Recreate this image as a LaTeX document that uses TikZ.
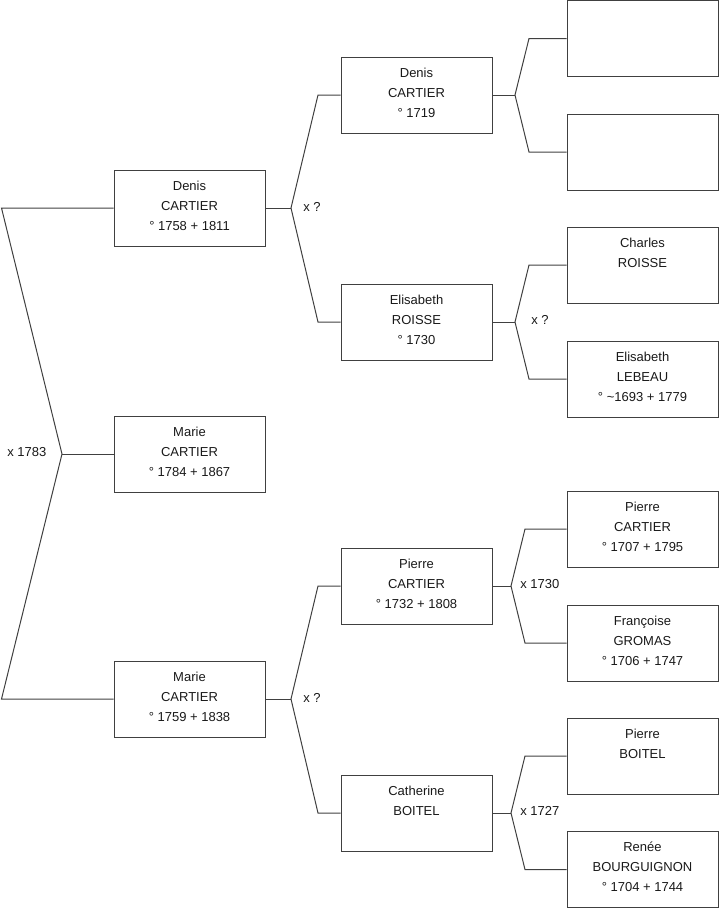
\documentclass[tikz,border=0pt]{standalone}
\usepackage{fontspec}
\setmainfont{Liberation Sans}
\newcommand\pbtext[3]{\strut #1\\\strut #2\\\strut #3\rule[-7.5pt]{0pt}{0pt}}
\begin{document}
\begin{tikzpicture}[x=0.75pt,y=-0.75pt,
  pbox/.style={draw=black!75, line width=0.75pt, rectangle, inner sep=0pt,
    minimum width=113.25pt, minimum height=57pt, align=center,
    font=\fontsize{9.75pt}{15pt}\selectfont, text=black!90},
  conn/.style={draw=black!75, line width=0.75pt},
  mlabel/.style={anchor=west, inner sep=0pt, font=\fontsize{9.75pt}{11pt}\selectfont, text=black!90}]
\useasboundingbox (0,0) rectangle (719,908);
% column 1
\node[pbox] (a1) at (189.5,208) {\pbtext{Denis}{CARTIER}{° 1758 + 1811}};
\node[pbox] (a0) at (189.5,454) {\pbtext{Marie}{CARTIER}{° 1784 + 1867}};
\node[pbox] (a2) at (189.5,699) {\pbtext{Marie}{CARTIER}{° 1759 + 1838}};
% column 2
\node[pbox] (b1) at (416.5,95) {\pbtext{Denis}{CARTIER}{° 1719}};
\node[pbox] (b2) at (416.5,322) {\pbtext{Elisabeth}{ROISSE}{° 1730}};
\node[pbox] (b3) at (416.5,586) {\pbtext{Pierre}{CARTIER}{° 1732 + 1808}};
\node[pbox] (b4) at (416.5,813) {\pbtext{Catherine}{BOITEL}{}};
% column 3
\node[pbox] (c1) at (642.5,38.5) {};
\node[pbox] (c2) at (642.5,152) {};
\node[pbox] (c3) at (642.5,265) {\pbtext{Charles}{ROISSE}{}};
\node[pbox] (c4) at (642.5,379) {\pbtext{Elisabeth}{LEBEAU}{° \textasciitilde 1693 + 1779}};
\node[pbox] (c5) at (642.5,529) {\pbtext{Pierre}{CARTIER}{° 1707 + 1795}};
\node[pbox] (c6) at (642.5,643) {\pbtext{Françoise}{GROMAS}{° 1706 + 1747}};
\node[pbox] (c7) at (642.5,756) {\pbtext{Pierre}{BOITEL}{}};
\node[pbox] (c8) at (642.5,869.5) {\pbtext{Renée}{BOURGUIGNON}{° 1704 + 1744}};
% root connector
\coordinate (rv) at (62,454);
\coordinate (ra) at (1.5,208);
\coordinate (rb) at (1.5,699);
\draw[conn] (a1.west) -- (ra) -- (rv) -- (rb) -- (a2.west);
\draw[conn] (rv) -- (a0.west);
\node[mlabel] (l0) at (7,452) {x 1783};
% Denis 1758 parents
\coordinate (v1) at (291,208);
\draw[conn] (a1.east) -- (v1);
\draw[conn] (b1.west) -- (318,95) -- (v1) -- (318,322) -- (b2.west);
\node[mlabel] (l1) at (303,207) {x ?};
% Marie 1759 parents
\coordinate (v2) at (291,699);
\draw[conn] (a2.east) -- (v2);
\draw[conn] (b3.west) -- (318,586) -- (v2) -- (318,813) -- (b4.west);
\node[mlabel] (l2) at (303,698) {x ?};
% Denis 1719 parents
\coordinate (v3) at (515,95);
\draw[conn] (b1.east) -- (v3);
\draw[conn] (c1.west) -- (529,38.5) -- (v3) -- (529,152) -- (c2.west);
% Elisabeth ROISSE parents
\coordinate (v4) at (515,322);
\draw[conn] (b2.east) -- (v4);
\draw[conn] (c3.west) -- (529,265) -- (v4) -- (529,379) -- (c4.west);
\node[mlabel] (l4) at (531,320) {x ?};
% Pierre 1732 parents
\coordinate (v5) at (511,586);
\draw[conn] (b3.east) -- (v5);
\draw[conn] (c5.west) -- (525,529) -- (v5) -- (525,643) -- (c6.west);
\node[mlabel] (l5) at (520,584) {x 1730};
% Catherine parents
\coordinate (v6) at (511,813);
\draw[conn] (b4.east) -- (v6);
\draw[conn] (c7.west) -- (525,756) -- (v6) -- (525,869.5) -- (c8.west);
\node[mlabel] (l6) at (520,811) {x 1727};
\end{tikzpicture}
\end{document}
